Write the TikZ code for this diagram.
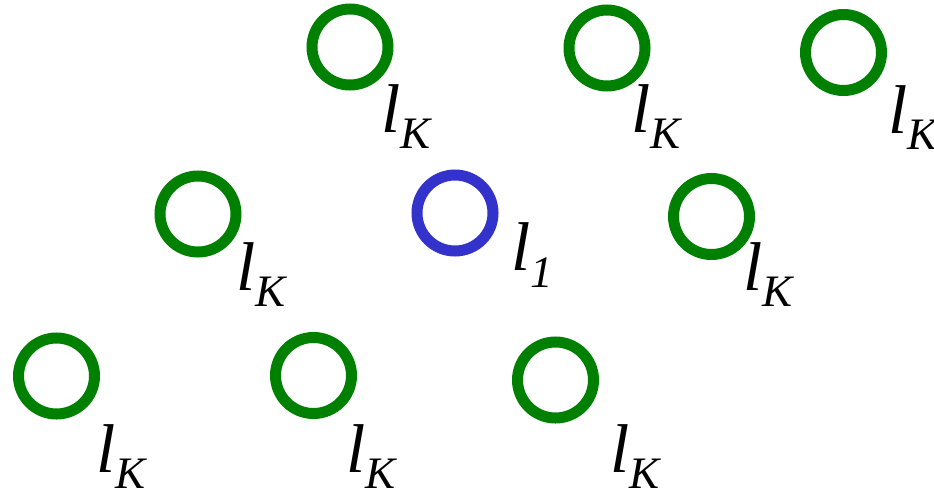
\documentclass[tikz,border=0pt]{standalone}
\usepackage{fontspec}
\setmainfont{Liberation Serif}
\definecolor{ringgreen}{RGB}{0,128,0}
\definecolor{ringblue}{RGB}{51,51,204}
\newcommand\subK{\raisebox{-16pt}{\fontsize{45}{45}\selectfont\textit{K}}}
\newcommand\subOne{\raisebox{-17pt}{\fontsize{45}{45}\selectfont\textit{1}}}
\begin{document}
\begin{tikzpicture}[x=1pt,y=-1pt,
  ring/.style={circle,draw=ringgreen,line width=11pt,minimum size=76pt,inner sep=0pt},
  bluering/.style={ring,draw=ringblue},
  lab/.style={anchor=base west,inner sep=0pt,font=\fontsize{69}{69}\selectfont\itshape}]
\useasboundingbox (0,0) rectangle (934,493);
\node[ring] (c1) at (350,47) {};
\node[ring] (c2) at (607,48) {};
\node[ring] (c3) at (843.5,52.5) {};
\node[ring] (c4) at (198,214) {};
\node[bluering] (c5) at (455,213) {};
\node[ring] (c6) at (711.5,216.5) {};
\node[ring] (c7) at (56.5,376) {};
\node[ring] (c8) at (313.5,375.5) {};
\node[ring] (c9) at (555.5,380) {};
\node[lab] (t1) at (381,132) {l\subK};
\node[lab] (t2) at (631,132) {l\subK};
\node[lab] (t3) at (888,133) {l\subK};
\node[lab] (t4) at (236,290) {l\subK};
\node[lab] (t5) at (511,270) {l\subOne};
\node[lab] (t6) at (743,290) {l\subK};
\node[lab] (t7) at (96,472) {l\subK};
\node[lab] (t8) at (346,472) {l\subK};
\node[lab] (t9) at (610,472) {l\subK};
\end{tikzpicture}
\end{document}
